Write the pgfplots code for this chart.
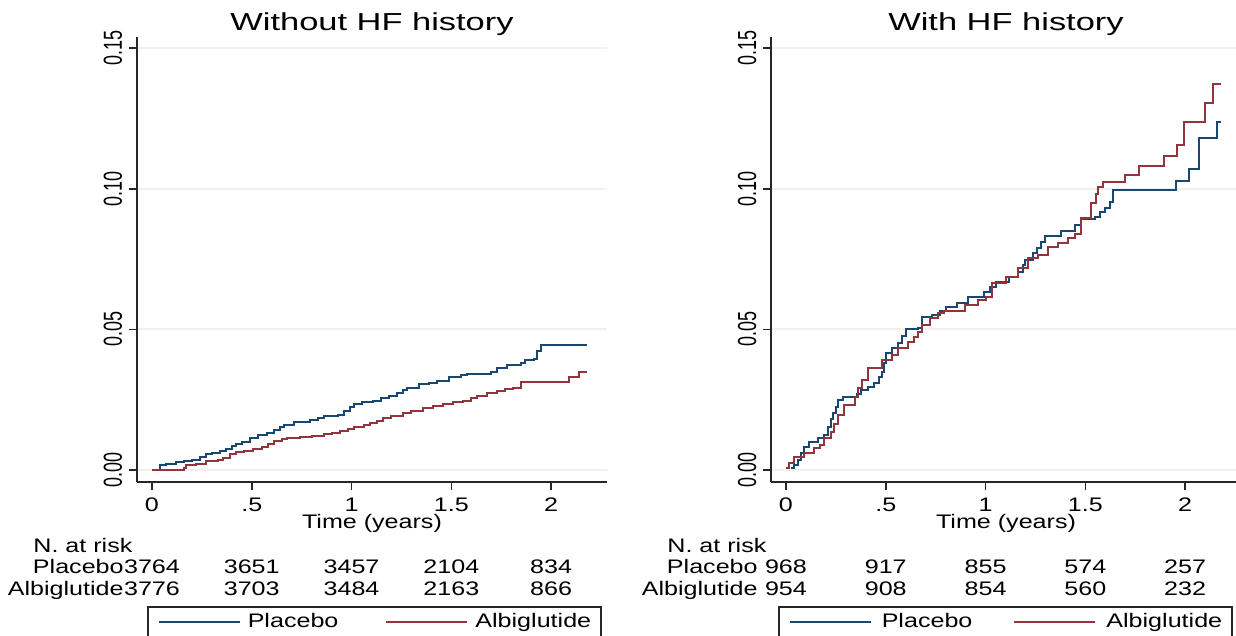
\documentclass[border=0pt]{standalone}
\usepackage{fontspec}
\setmainfont{Liberation Sans}[FakeStretch=1.28]
\newfontfamily\plainfont{Liberation Sans}
\newfontfamily\titlefont{Liberation Sans}[FakeStretch=1.4]
\usepackage{graphicx}
\usepackage{pgfplots}
\pgfplotsset{compat=1.18}

\definecolor{stnavy}{RGB}{26,71,111}
\definecolor{stmaroon}{RGB}{144,53,59}
\newcommand\txt{\fontsize{9.8bp}{11bp}\selectfont}
\newcommand\ylab[1]{\scalebox{1}[1.45]{\plainfont\fontsize{9bp}{10bp}\selectfont #1}}
\tikzset{risk/.style={font=\txt, inner sep=0pt}}

\pgfplotsset{
  km/.style={
    scale only axis, width=235bp, height=222.5bp,
    xmin=-0.075, xmax=2.28, ymin=-0.0043, ymax=0.154,
    axis x line*=bottom, axis y line*=left,
    axis line style={black!85, line width=0.75bp, -},
    xtick={0,0.5,1,1.5,2}, xticklabels={0,.5,1,1.5,2},
    ytick={0,0.05,0.1,0.15},
    yticklabels={\ylab{0.00},\ylab{0.05},\ylab{0.10},\ylab{0.15}},
    tick align=outside, major tick length=4bp,
    tick style={black!85, line width=0.75bp},
    xticklabel style={font=\txt, anchor=base, yshift=-10.5bp},
    yticklabel style={xshift=-3.5bp, rotate=90, anchor=base},
    ymajorgrids, grid style={black!6, line width=1bp},
    xlabel={Time (years)},
    xlabel style={font=\txt, at={(axis description cs:0.5,0)}, anchor=base, yshift=-23bp},
    title style={font=\titlefont\fontsize{12.3bp}{14bp}\selectfont,
      at={(axis description cs:0.5,1)}, anchor=base, yshift=-2.5bp},
    clip=false,
    legend columns=2, legend cell align=left,
    legend image code/.code={\draw[#1] (0bp,0bp) -- (40.5bp,0bp);},
    legend style={anchor=north west, draw=black!85, line width=0.75bp, font=\txt,
      inner xsep=5bp, inner ysep=3.5bp, nodes={inner sep=0pt},
      /tikz/every odd column/.append style={column sep=3.5bp},
      /tikz/every even column/.append style={column sep=23.5bp}},
    every axis plot/.append style={const plot, line width=1bp, no marks},
  },
}

\begin{document}
\begin{tikzpicture}

% ---- left panel
\begin{axis}[km, at={(68.5bp,-241bp)}, anchor=south west,
    title={Without HF history},
    legend style={at={(0.0213,-0.2787)}}]
\addplot[stnavy] coordinates {
 (0,0) (0.04,0.0018) (0.07,0.0022) (0.12,0.0027) (0.16,0.0031) (0.2,0.0037)
 (0.24,0.0045) (0.27,0.0056) (0.3,0.006) (0.34,0.0066) (0.37,0.0075) (0.4,0.0084)
 (0.42,0.0091) (0.45,0.0101) (0.49,0.0115) (0.53,0.0124) (0.576,0.0133) (0.61,0.0143)
 (0.64,0.0152) (0.66,0.0159) (0.71,0.0169) (0.75,0.0172) (0.79,0.0177) (0.83,0.0186)
 (0.86,0.0192) (0.93,0.0196) (0.96,0.021) (0.99,0.0225) (1.01,0.0235) (1.05,0.024)
 (1.11,0.0246) (1.15,0.0255) (1.19,0.0264) (1.23,0.0272) (1.26,0.0283) (1.28,0.0293)
 (1.34,0.0305) (1.39,0.031) (1.43,0.0317) (1.49,0.0329) (1.55,0.0336) (1.58,0.034)
 (1.70,0.0347) (1.73,0.0364) (1.78,0.0374) (1.85,0.0382) (1.87,0.039) (1.915,0.0395)
 (1.93,0.0424) (1.95,0.0445) (2.18,0.0445)};
\addlegendentry{Placebo}
\addplot[stmaroon] coordinates {
 (0,0) (0.16,0.0006) (0.17,0.0018) (0.22,0.0022) (0.27,0.003) (0.33,0.0034)
 (0.355,0.0044) (0.39,0.0055) (0.42,0.0064) (0.46,0.0068) (0.505,0.0074) (0.55,0.0082)
 (0.58,0.0092) (0.61,0.0103) (0.65,0.011) (0.675,0.0115) (0.74,0.0118) (0.8,0.0122)
 (0.86,0.0127) (0.9,0.0133) (0.94,0.0139) (0.98,0.0146) (1.01,0.0153) (1.06,0.016)
 (1.09,0.0166) (1.13,0.0175) (1.16,0.0186) (1.2,0.0192) (1.26,0.0204) (1.3,0.021)
 (1.36,0.022) (1.41,0.0227) (1.46,0.0234) (1.51,0.024) (1.56,0.0246) (1.6,0.0255)
 (1.63,0.0264) (1.68,0.0272) (1.73,0.0281) (1.77,0.0287) (1.81,0.0293) (1.85,0.0313)
 (2.09,0.0331) (2.14,0.035) (2.18,0.035)};
\addlegendentry{Albiglutide}
\node[risk, anchor=base west] at (axis cs:-0.596,-0.0295) {N. at risk};
\node[risk, anchor=base east] at (axis cs:-0.14,-0.0370) {Placebo};
\node[risk, anchor=base east] at (axis cs:-0.14,-0.0445) {Albiglutide};
\node[risk, anchor=base] at (axis cs:0,-0.0370) {3764};
\node[risk, anchor=base] at (axis cs:0.5,-0.0370) {3651};
\node[risk, anchor=base] at (axis cs:1,-0.0370) {3457};
\node[risk, anchor=base] at (axis cs:1.5,-0.0370) {2104};
\node[risk, anchor=base] at (axis cs:2,-0.0370) {834};
\node[risk, anchor=base] at (axis cs:0,-0.0445) {3776};
\node[risk, anchor=base] at (axis cs:0.5,-0.0445) {3703};
\node[risk, anchor=base] at (axis cs:1,-0.0445) {3484};
\node[risk, anchor=base] at (axis cs:1.5,-0.0445) {2163};
\node[risk, anchor=base] at (axis cs:2,-0.0445) {866};
\end{axis}

% ---- right panel
\begin{axis}[km, at={(385.5bp,-241bp)}, anchor=south west,
    title={With HF history},
    legend style={at={(0.0149,-0.2787)},
      /tikz/every odd column/.append style={column sep=5bp},
      /tikz/every even column/.append style={column sep=20.5bp}}]
\addplot[stnavy] coordinates {
 (0.025,0.0006) (0.04,0.0018) (0.06,0.0036) (0.075,0.006) (0.09,0.0083) (0.115,0.01)
 (0.16,0.0114) (0.19,0.0125) (0.21,0.0154) (0.225,0.018) (0.235,0.0201) (0.25,0.0225)
 (0.26,0.0249) (0.285,0.0258) (0.355,0.027) (0.377,0.0284) (0.41,0.0294) (0.44,0.0308)
 (0.465,0.033) (0.48,0.035) (0.49,0.038) (0.50,0.0415) (0.53,0.0433) (0.56,0.045)
 (0.58,0.0475) (0.60,0.05) (0.66,0.0506) (0.68,0.0545) (0.73,0.0551) (0.77,0.0565)
 (0.80,0.058) (0.855,0.0592) (0.91,0.0614) (0.99,0.0634) (1.02,0.065) (1.05,0.067)
 (1.115,0.0687) (1.165,0.0705) (1.19,0.073) (1.2,0.0747) (1.24,0.077) (1.26,0.0788)
 (1.28,0.0811) (1.30,0.0832) (1.38,0.085) (1.45,0.0871) (1.48,0.0891) (1.55,0.09)
 (1.575,0.0918) (1.6,0.093) (1.625,0.0954) (1.64,0.0995) (1.955,0.1028) (2.02,0.1072)
 (2.07,0.1179) (2.16,0.1238) (2.18,0.1238)};
\addlegendentry{Placebo}
\addplot[stmaroon] coordinates {
 (0,0.0006) (0.015,0.0025) (0.04,0.0047) (0.09,0.006) (0.14,0.0077) (0.17,0.009)
 (0.19,0.0114) (0.225,0.0136) (0.24,0.0165) (0.26,0.0195) (0.29,0.023) (0.345,0.026)
 (0.36,0.029) (0.38,0.032) (0.41,0.0361) (0.48,0.039) (0.53,0.0409) (0.56,0.0432)
 (0.61,0.0456) (0.64,0.0474) (0.66,0.049) (0.68,0.0515) (0.72,0.0539) (0.76,0.0557)
 (0.79,0.0565) (0.895,0.0587) (0.96,0.0604) (1.0,0.0616) (1.03,0.0664) (1.1,0.0687)
 (1.165,0.0717) (1.215,0.0753) (1.265,0.0764) (1.315,0.0792) (1.365,0.0806) (1.415,0.0824)
 (1.45,0.0839) (1.48,0.0895) (1.53,0.095) (1.555,0.0983) (1.565,0.1007) (1.59,0.1025)
 (1.70,0.105) (1.77,0.108) (1.895,0.1116) (1.96,0.1155) (1.995,0.1238) (2.1,0.1304)
 (2.14,0.1372) (2.18,0.1372)};
\addlegendentry{Albiglutide}
\node[risk, anchor=base west] at (axis cs:-0.596,-0.0295) {N. at risk};
\node[risk, anchor=base east] at (axis cs:-0.14,-0.0370) {Placebo};
\node[risk, anchor=base east] at (axis cs:-0.14,-0.0445) {Albiglutide};
\node[risk, anchor=base] at (axis cs:0,-0.0370) {968};
\node[risk, anchor=base] at (axis cs:0.5,-0.0370) {917};
\node[risk, anchor=base] at (axis cs:1,-0.0370) {855};
\node[risk, anchor=base] at (axis cs:1.5,-0.0370) {574};
\node[risk, anchor=base] at (axis cs:2,-0.0370) {257};
\node[risk, anchor=base] at (axis cs:0,-0.0445) {954};
\node[risk, anchor=base] at (axis cs:0.5,-0.0445) {908};
\node[risk, anchor=base] at (axis cs:1,-0.0445) {854};
\node[risk, anchor=base] at (axis cs:1.5,-0.0445) {560};
\node[risk, anchor=base] at (axis cs:2,-0.0445) {232};
\end{axis}

\pgfresetboundingbox
\path[use as bounding box] (0bp,0bp) rectangle (618bp,-318bp);
\end{tikzpicture}
\end{document}
